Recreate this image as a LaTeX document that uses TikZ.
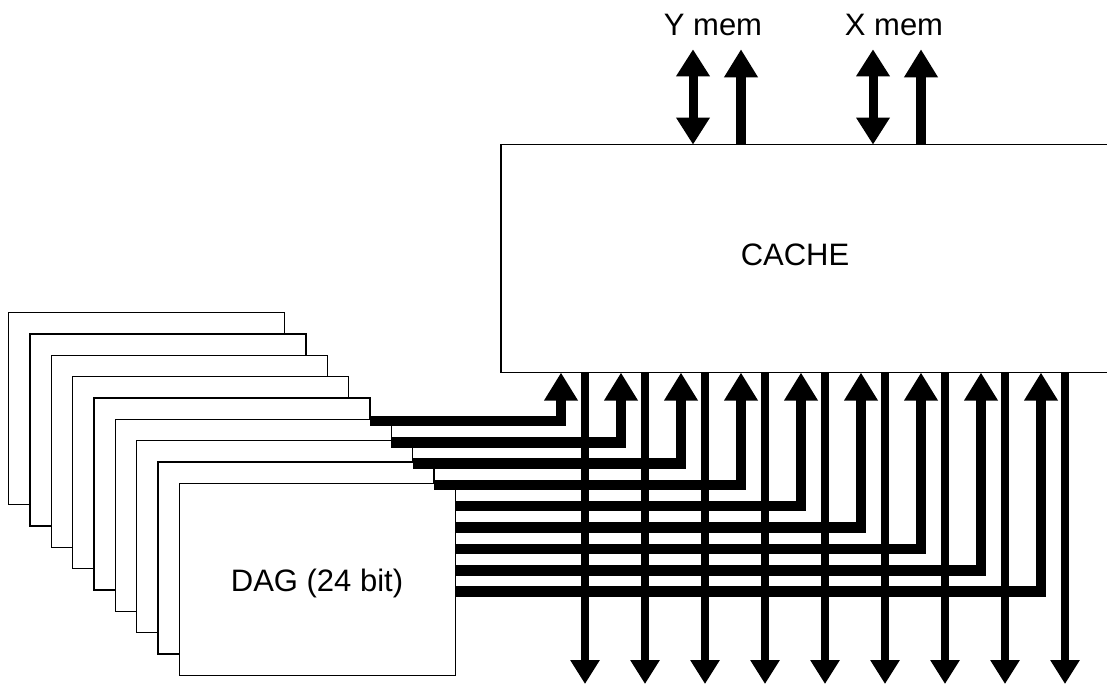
\documentclass[tikz,border=0pt]{standalone}
\usepackage{fontspec}
\setmainfont{Liberation Sans}
\usetikzlibrary{arrows.meta}
\tikzset{
  regbox/.style={draw, line width=1.5pt, fill=white, inner sep=0pt, outer sep=0pt,
    minimum width=276pt, minimum height=192pt},
  cachebox/.style={draw, line width=1.5pt, inner sep=0pt, outer sep=0pt,
    minimum width=608pt, minimum height=228pt},
  label/.style={font=\fontsize{31}{34}\selectfont, inner sep=0pt, anchor=base},
  outbus/.style={line width=8pt, -{Triangle[length=24pt,width=28pt]}},
  inbus/.style={line width=10.5pt, -{Triangle[length=28pt,width=32pt]}},
  membus/.style={line width=9pt, {Triangle[length=27pt,width=32pt]}-{Triangle[length=27pt,width=32pt]}}
}
\begin{document}
\begin{tikzpicture}[x=1pt, y=-1pt]
\useasboundingbox (0,0) rectangle (1107,686);

% Cache
\node[cachebox] (cache) at (805,258.6) {};
\node[label] (cachetext) at (795,265) {CACHE};

% Pila de registros
\foreach \i in {1,...,9}
  \node[regbox] (dag\i) at ({146.7+(\i-1)*21.33},{408.7+(\i-1)*21.33}) {};
\node[label] (dagtext) at (317,591) {DAG (24 bit)};

% Memorias
\node[label] (ymem) at (713,35) {Y mem};
\node[label] (xmem) at (894,35) {X mem};
\coordinate (ytop) at (693,49.3);
\coordinate (yin) at (741,49.3);
\coordinate (xtop) at (873,49.3);
\coordinate (xin) at (921,49.3);
\draw[membus] (ytop) -- (ytop |- cache.north);
\draw[membus] (xtop) -- (xtop |- cache.north);
\draw[inbus] (yin |- cache.north) -- (yin);
\draw[inbus] (xin |- cache.north) -- (xin);

% Buses hacia el cache
\foreach \x/\y/\s in {561/421/5, 621/442.3/6, 681/463.7/7, 741/485/8, 801/506/9,
                      861/527.7/9, 921/549/9, 981/570.3/9, 1041/591.7/9}
  \draw[inbus] (dag\s.east |- 0,\y) -| (cache.south -| \x,0);

% Buses de salida
\foreach \x in {585,645,...,1065} {
  \coordinate (out\x) at (\x,684);
  \draw[outbus] (cache.south -| out\x) -- (out\x);
}

\end{tikzpicture}
\end{document}
